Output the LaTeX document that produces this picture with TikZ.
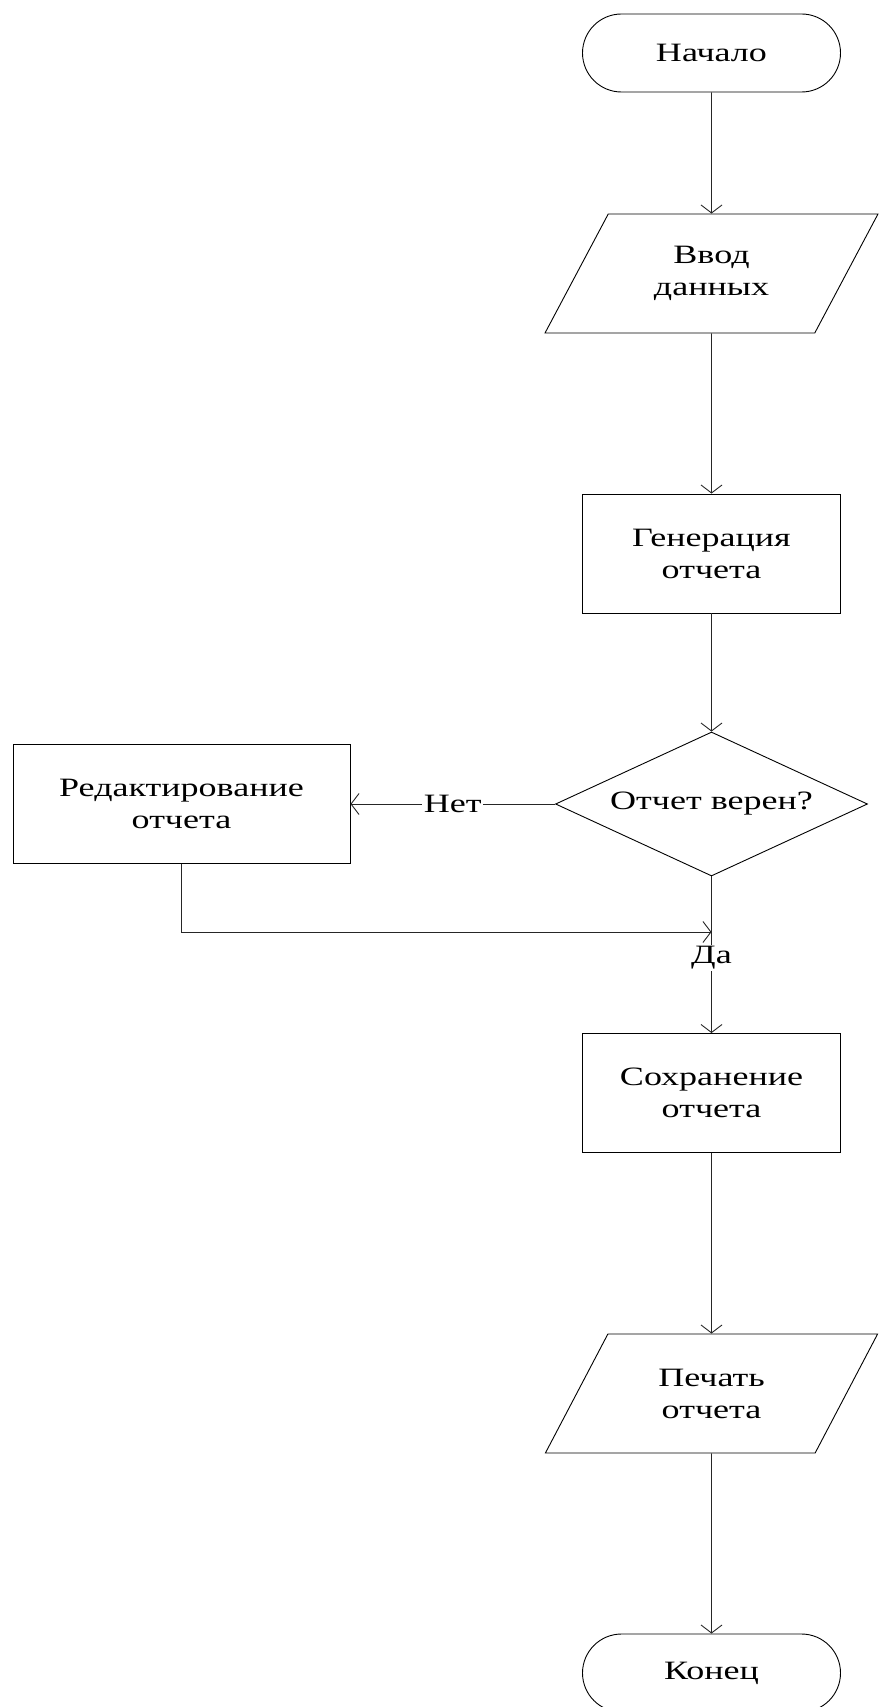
\documentclass[tikz,border=0pt]{standalone}
\usepackage{fontspec}
\setmainfont{Liberation Serif}[FakeStretch=1.36]
\usetikzlibrary{shapes.geometric,shapes.misc,arrows.meta}
\begin{document}
\begin{tikzpicture}[x=1pt,y=-1pt,
  txt/.style={font=\fontsize{26.5}{32}\selectfont, align=center, text=black},
  base/.style={txt, draw=black, line width=0.9pt, inner sep=0pt},
  term/.style={base, rounded rectangle, minimum width=258pt, minimum height=78pt},
  proc/.style={base, rectangle, minimum width=258pt, minimum height=119pt},
  io/.style={base, trapezium, trapezium left angle=57.1, trapezium right angle=122.9,
    trapezium stretches=true, minimum width=333pt, minimum height=119pt},
  decision/.style={base, diamond, aspect=2.17, minimum width=312pt, minimum height=144pt},
  arr/.style={draw=black!85, line width=0.9pt, -{Straight Barb[length=8pt,width=21pt]}},
  lbl/.style={txt, fill=white, inner sep=1.5pt}
]
\useasboundingbox (0,0) rectangle (880,1707);
\clip (0,0) rectangle (880,1707);

% main column
\node[term]     (start) at (711.5,53)     {Начало};
\node[io]       (inp)   at (711.5,273.5)  {Ввод\\данных};
\node[proc]     (gen)   at (711.5,553.5)  {Генерация\\отчета};
\node[decision] (dec)   at (711.5,804)    {Отчет верен?};
\node[proc, minimum width=337pt] (edit) at (181.5,804) {Редактирование\\отчета};
\node[proc]     (save)  at (711.5,1093)   {Сохранение\\отчета};
\node[io]       (prn)   at (711.5,1393.5) {Печать\\отчета};
\node[term]     (stop)  at (711.5,1673)   {Конец};

\coordinate (join) at (711.5,932);

% connectors
\draw[arr] (start) -- (inp);
\draw[arr] (inp) -- (gen);
\draw[arr] (gen) -- (dec);
\draw[arr] (dec) -- node[lbl]{Нет} (edit);
\draw[arr] (edit.south) |- (join);
\draw[arr] (dec) -- node[lbl, pos=0.52]{Да} (save);
\draw[arr] (save) -- (prn);
\draw[arr] (prn) -- (stop);
\end{tikzpicture}
\end{document}
